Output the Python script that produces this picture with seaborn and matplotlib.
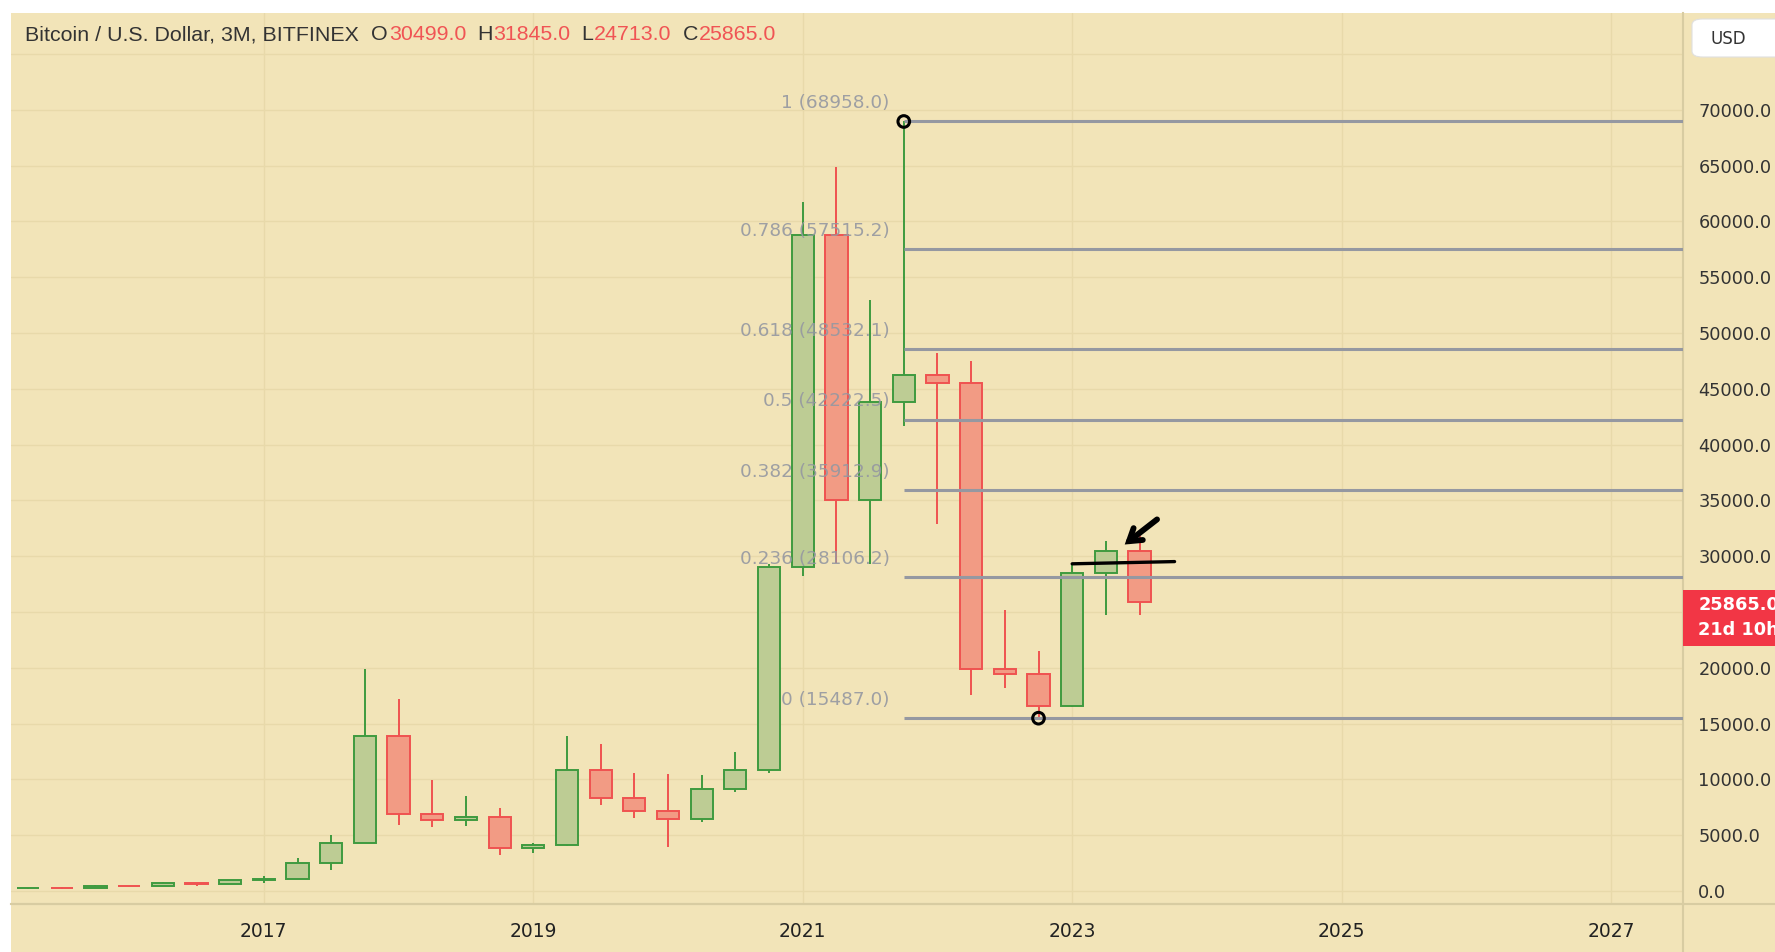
import numpy as np
import pandas as pd
import seaborn as sns
import matplotlib
matplotlib.use("Agg")
import matplotlib.pyplot as plt
import matplotlib.transforms as mtransforms
from matplotlib.patches import Rectangle, FancyBboxPatch
from matplotlib.lines import Line2D
from matplotlib import font_manager

# BTC/USD 3M candles (Bitfinex)
quarters = ["2015Q2", "2015Q3", "2015Q4", "2016Q1", "2016Q2", "2016Q3", "2016Q4",
            "2017Q1", "2017Q2", "2017Q3", "2017Q4", "2018Q1", "2018Q2", "2018Q3", "2018Q4",
            "2019Q1", "2019Q2", "2019Q3", "2019Q4", "2020Q1", "2020Q2", "2020Q3", "2020Q4",
            "2021Q1", "2021Q2", "2021Q3", "2021Q4", "2022Q1", "2022Q2", "2022Q3", "2022Q4",
            "2023Q1", "2023Q2", "2023Q3"]
opens = [244, 263, 236, 430, 416, 673, 609,
         963, 1080, 2480, 4340, 13850, 6930, 6390, 6630,
         3830, 4110, 10820, 8300, 7200, 6420, 9150, 10800,
         28990, 58800, 35040, 43820, 46200, 45500, 19930, 19420,
         16540, 28470, 30499]
highs = [265, 317, 502, 463, 780, 704, 975,
         1350, 3000, 5000, 19890, 17180, 9990, 8500, 7420,
         4320, 13880, 13200, 10540, 10500, 10430, 12480, 29300,
         61780, 64900, 52920, 68958, 48200, 47500, 25200, 21480,
         29200, 31400, 31845]
lows = [218, 199, 235, 350, 413, 470, 590,
        750, 1070, 1840, 4280, 5870, 5755, 5860, 3210,
        3400, 4070, 7730, 6530, 3900, 6180, 8900, 10540,
        28200, 29400, 29300, 41700, 32900, 17600, 18200, 15487,
        16490, 24750, 24713]
closes = [263, 236, 430, 416, 673, 609, 963,
          1080, 2480, 4340, 13850, 6930, 6390, 6630, 3830,
          4110, 10820, 8300, 7200, 6420, 9150, 10800, 28990,
          58800, 35040, 43820, 46200, 45500, 19930, 19420, 16540,
          28470, 30499, 25865]

fib_ratios = ["1", "0.786", "0.618", "0.5", "0.382", "0.236", "0"]
fib_prices = [68958.0, 57515.2, 48532.1, 42222.5, 35912.9, 28106.2, 15487.0]
fib_start = "2021Q4"
anchor_quarters = ["2021Q4", "2022Q4"]
anchor_prices = [68958.0, 15487.0]

mark_line_x = [2023.0, 2023.76]
mark_line_y = [29320, 29520]
arrow_tail = (2023.63, 33300)
arrow_tip = (2023.39, 31050)

year_ticks = [2017, 2019, 2021, 2023, 2025, 2027]
price_ticks = list(range(0, 70001, 5000))

header_name = "Bitcoin / U.S. Dollar, 3M, BITFINEX"
header_ohlc = [("O", "30499.0"), ("H", "31845.0"), ("L", "24713.0"), ("C", "25865.0")]
last_price = 25865.0
countdown = "21d 10h"

BG = "#f2e4b8"
GRID = "#e8d9aa"
SEP = "#d8cca2"
UP_FILL, UP_EDGE = "#bdcc94", "#3f9a3f"
DN_FILL, DN_EDGE = "#f29b84", "#ef5350"
FIB = "#9598a1"
TXT = "#333333"
RED_TXT = "#f05454"

sns.set_theme(style="white", rc={"axes.facecolor": BG, "figure.facecolor": "white"})
plt.rcParams["font.family"] = ["DejaVu Sans"]

names = {f.name for f in font_manager.fontManager.ttflist}
head_font = "Liberation Sans Narrow" if "Liberation Sans Narrow" in names else "Liberation Sans"

df = pd.DataFrame({"quarter": quarters, "open": opens, "high": highs,
                   "low": lows, "close": closes})
per = pd.PeriodIndex(df["quarter"], freq="Q")
df["t"] = per.year + (per.quarter - 1) / 4
df["up"] = df["close"] >= df["open"]

def qpos(q):
    p = pd.Period(q, freq="Q")
    return p.year + (p.quarter - 1) / 4

W, H = 1775, 952
fig = plt.figure(figsize=(W / 100, H / 100), dpi=100)
# beige canvas with thin white strip on top/left
fig.patches.append(Rectangle((11 / W, 0), 1, 1 - 13 / H, transform=fig.transFigure,
                             facecolor=BG, edgecolor="none", zorder=-10))
ax_left, ax_right, ax_top, ax_bot = 11, 1683, 13, 903.5
ax = fig.add_axes([ax_left / W, 1 - ax_bot / H, (ax_right - ax_left) / W, (ax_bot - ax_top) / H])

ax.set_xlim(2015.123, 2027.534)
ax.set_ylim(-1120, 78680)

# grid
for yv in price_ticks + [75000]:
    ax.axhline(yv, color=GRID, lw=1, zorder=0)
for xv in year_ticks:
    ax.axvline(xv, color=GRID, lw=1, zorder=0)

# candles
for up, fill, edge in [(True, UP_FILL, UP_EDGE), (False, DN_FILL, DN_EDGE)]:
    d = df[df["up"] == up]
    ax.vlines(d["t"], d["low"], d["high"], colors=edge, lw=1.4, zorder=2)
    body_lo = np.minimum(d["open"], d["close"])
    body_h = np.maximum((d["close"] - d["open"]).abs(), 60)
    ax.bar(d["t"], body_h, bottom=body_lo, width=0.165, color=fill,
           edgecolor=edge, linewidth=1.4, zorder=3)

# fibonacci retracement
x0 = qpos(fib_start)
fib_df = pd.DataFrame({"ratio": fib_ratios, "price": fib_prices})
for _, r in fib_df.iterrows():
    ax.plot([x0, 2027.534], [r["price"], r["price"]], color=FIB, lw=2.2, zorder=4,
            solid_capstyle="butt")
    ax.text(x0 - 0.105, r["price"] + 1650, f"{r['ratio']} ({r['price']:.1f})",
            ha="right", va="center", color=FIB, alpha=0.9, fontsize=13.3, zorder=5)

anchors = pd.DataFrame({"t": [qpos(q) for q in anchor_quarters], "price": anchor_prices})
sns.scatterplot(data=anchors, x="t", y="price", ax=ax, s=70, marker="o",
                facecolor="none", edgecolor="black", linewidth=2.2, zorder=6, legend=False)

# hand-drawn marks
ax.plot(mark_line_x, mark_line_y, color="black", lw=2.4, zorder=6)
ax.annotate("", xy=arrow_tip, xytext=arrow_tail, zorder=7,
            arrowprops=dict(arrowstyle="->,head_length=0.7,head_width=0.45",
                            color="black", lw=4.2, shrinkA=0, shrinkB=0,
                            joinstyle="miter", capstyle="round"))

# axes styling
ax.set_xticks(year_ticks)
ax.set_xticklabels([str(y) for y in year_ticks])
ax.yaxis.tick_right()
ax.set_yticks(price_ticks)
# the 25000 label sits under the last-price tag
ax.set_yticklabels(["" if v == 25000 else f"{v:.1f}" for v in price_ticks])
ax.tick_params(axis="x", length=0, pad=13, labelsize=13.5, colors="#222222")
ax.tick_params(axis="y", length=0, pad=11, labelsize=12.8, colors=TXT)
ax.set_xlabel("")
ax.set_ylabel("")
for s in ["top", "left"]:
    ax.spines[s].set_visible(False)
ax.spines["bottom"].set_color(SEP)
ax.spines["right"].set_color(SEP)
ax.spines["bottom"].set_linewidth(1.5)
ax.spines["right"].set_linewidth(1.5)

# separators running into the margins
fig.add_artist(Line2D([ax_left / W, 1], [1 - ax_bot / H] * 2, color=SEP, lw=1.5))
fig.add_artist(Line2D([ax_right / W] * 2, [0, 1 - ax_bot / H], color=SEP, lw=1.5))

# last price tag
blend = mtransforms.blended_transform_factory(ax.transAxes, ax.transData)
ax.add_patch(Rectangle((1.0, 22000), 0.1, 5000, transform=blend, facecolor="#f23645",
                       edgecolor="none", clip_on=False, zorder=10))
ax.text(1.0091, last_price - 200, f"{last_price:.1f}", transform=blend, color="white",
        fontsize=12.8, fontweight="bold", va="center", ha="left", zorder=11, clip_on=False)
ax.text(1.0091, last_price - 2450, countdown, transform=blend, color="white",
        fontsize=12.8, fontweight="bold", va="center", ha="left", zorder=11, clip_on=False)

# currency button
fig.add_artist(FancyBboxPatch((1692 / W, 1 - 57 / H), 100 / W, 38 / H,
                              boxstyle="round,pad=0,rounding_size=0.006",
                              transform=fig.transFigure, facecolor="white",
                              edgecolor="#e0e0e0", lw=0.8))
fig.text(1710 / W, 1 - 39 / H, "USD", color=TXT, fontsize=12, va="center", ha="left")

# header
hsize = 15.4
t = fig.text(25 / W, 1 - 35 / H, header_name, color=TXT, fontsize=hsize,
             family=head_font, va="center", ha="left")
first = True
for key, val in header_ohlc:
    t = ax.annotate(key, xy=(1, 0), xycoords=t, xytext=(8 if not first else 9, 0),
                    textcoords="offset points", color=TXT, fontsize=hsize,
                    family=head_font, va="bottom", ha="left", annotation_clip=False)
    first = False
    t = ax.annotate(val, xy=(1, 0), xycoords=t, xytext=(0.5, 0),
                    textcoords="offset points", color=RED_TXT, fontsize=hsize,
                    family=head_font, va="bottom", ha="left", annotation_clip=False)

fig.savefig("out.png", dpi=100)
